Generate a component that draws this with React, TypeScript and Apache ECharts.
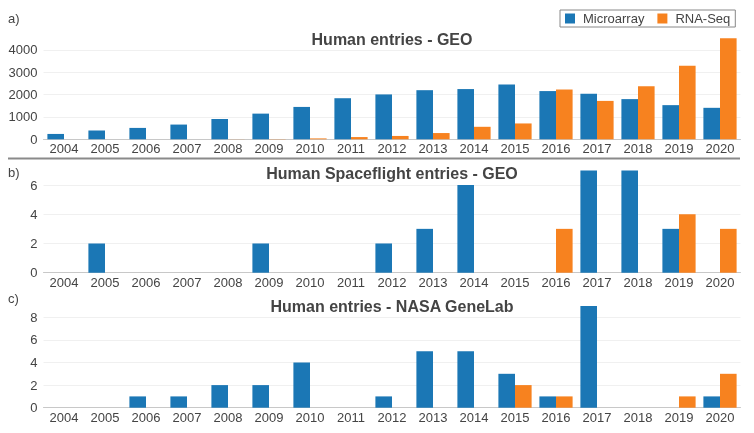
import React, { useEffect, useRef } from "react";
import * as echarts from "echarts";

const years = ["2004","2005","2006","2007","2008","2009","2010","2011","2012","2013","2014","2015","2016","2017","2018","2019","2020"];

// a) Human entries - GEO
const geoMicro = [240, 390, 510, 660, 910, 1150, 1450, 1840, 2010, 2200, 2250, 2460, 2160, 2040, 1800, 1530, 1410];
const geoRna = [0, 0, 0, 0, 5, 10, 40, 100, 150, 280, 560, 710, 2230, 1720, 2380, 3290, 4530];

// b) Human Spaceflight entries - GEO
const flightMicro = [0, 2, 0, 0, 0, 2, 0, 0, 2, 3, 6, 0, 0, 7, 7, 3, 0];
const flightRna = [0, 0, 0, 0, 0, 0, 0, 0, 0, 0, 0, 0, 3, 0, 0, 4, 3];

// c) Human entries - NASA GeneLab
const labMicro = [0, 0, 1, 1, 2, 2, 4, 0, 1, 5, 5, 3, 1, 9, 0, 0, 1];
const labRna = [0, 0, 0, 0, 0, 0, 0, 0, 0, 0, 0, 2, 1, 0, 0, 1, 3];

const titles = ["Human entries - GEO", "Human Spaceflight entries - GEO", "Human entries - NASA GeneLab"];
const panelLabels = ["a)", "b)", "c)"];

const BLUE = "#1b77b5";
const ORANGE = "#f7821f";

export default function App() {
  const ref = useRef<HTMLDivElement>(null);
  useEffect(() => {
    document.body.style.margin = "0";
    const chart = echarts.init(ref.current!, null, { renderer: "svg" });
    const font = "Liberation Sans, Arial, sans-serif";
    const grids = [
      { left: 43.5, right: 13.5, top: 36.6, bottom: 293.7 },
      { left: 43.5, right: 13.5, top: 170.4, bottom: 160.3 },
      { left: 43.5, right: 13.5, top: 306, bottom: 25.3 },
    ];
    const G = "#f0f0f0";
    const yCfg = [
      { max: 4600, interval: 1000, lines: [G, G, G, G, G, "rgba(0,0,0,0)"] },
      { max: 7, interval: 2, lines: [G, G, G, G, "rgba(0,0,0,0)"] },
      { max: 9, interval: 2, lines: [G, G, G, G, G, "rgba(0,0,0,0)"] },
    ];
    const data = [
      [geoMicro, geoRna],
      [flightMicro, flightRna],
      [labMicro, labRna],
    ];
    const series: any[] = [];
    data.forEach((pair, i) => {
      series.push({
        name: "Microarray", type: "bar", xAxisIndex: i, yAxisIndex: i, data: pair[0],
        itemStyle: { color: BLUE }, barGap: "0%", barCategoryGap: "19%",
      });
      series.push({
        name: "RNA-Seq", type: "bar", xAxisIndex: i, yAxisIndex: i, data: pair[1],
        itemStyle: { color: ORANGE }, barGap: "0%", barCategoryGap: "19%",
      });
    });
    const titleTops = [31, 165, 298];
    const labelTops = [12, 166, 292];
    chart.setOption({
      animation: false,
      textStyle: { fontFamily: font },
      title: titles.map((t, i) => ({
        text: t, left: 392, top: titleTops[i], textAlign: "center", padding: 0,
        textStyle: { fontSize: 16, fontWeight: "bold", color: "#444", fontFamily: font },
      })),
      legend: {
        data: ["Microarray", "RNA-Seq"], left: 560, top: 10, padding: [2, 5, 2, 5],
        itemWidth: 10, itemHeight: 10, itemGap: 13, icon: "rect",
        borderColor: "#888", borderWidth: 1, borderRadius: 0,
        textStyle: { fontSize: 13, color: "#444", fontFamily: font, padding: [0, 0, 0, 3] },
      },
      grid: grids,
      xAxis: grids.map((_, i) => ({
        type: "category", gridIndex: i, data: years,
        axisTick: { show: false },
        axisLine: { lineStyle: { color: "#c8c8c8", width: 1 } },
        axisLabel: { fontSize: 13, color: "#444", margin: 3, interval: 0, fontFamily: font },
      })),
      yAxis: grids.map((_, i) => ({
        type: "value", gridIndex: i, min: 0, max: yCfg[i].max, interval: yCfg[i].interval,
        axisLine: { show: false }, axisTick: { show: false },
        axisLabel: {
          fontSize: 13, color: "#444", margin: 6, showMaxLabel: false, fontFamily: font,
          formatter: (v: number) => String(v),
        },
        splitLine: { lineStyle: { color: yCfg[i].lines, width: 1 } },
      })),
      series,
      graphic: [
        { type: "line", shape: { x1: 8, y1: 158.5, x2: 740, y2: 158.5 }, style: { stroke: "#8a8a8a", lineWidth: 2 } },
        ...panelLabels.map((l, i) => ({
          type: "text", left: 8, top: labelTops[i],
          style: { text: l, fontSize: 13, fill: "#444", fontFamily: font },
        })),
      ],
    });
    return () => chart.dispose();
  }, []);
  return <div ref={ref} style={{ position: "fixed", left: 0, top: 0, width: 754, height: 433 }} />;
}
